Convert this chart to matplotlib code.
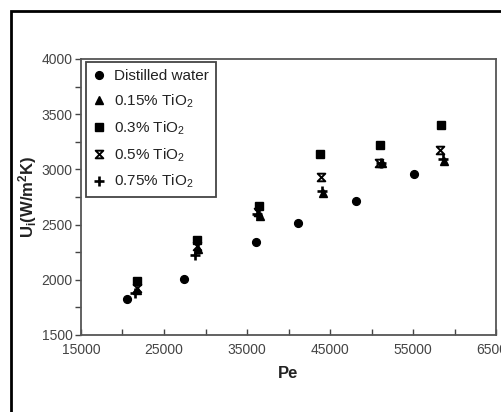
import numpy as np
import matplotlib
matplotlib.use('Agg')
import matplotlib.pyplot as plt
from matplotlib.path import Path
from matplotlib.patches import Rectangle

plt.rcParams['font.family'] = ['Liberation Sans', 'DejaVu Sans']
plt.rcParams['mathtext.default'] = 'regular'

# datos
pe_agua = [20550, 27450, 36100, 41200, 48150, 55100]
u_agua = [1825, 2010, 2340, 2515, 2710, 2955]

pe_015 = [21800, 29050, 36600, 44100, 51300, 58700]
u_015 = [1910, 2275, 2580, 2785, 3055, 3080]

pe_03 = [21750, 28950, 36450, 43850, 51050, 58400]
u_03 = [1985, 2360, 2670, 3135, 3220, 3400]

pe_05 = [21700, 29000, 36350, 43950, 50900, 58200]
u_05 = [1930, 2305, 2615, 2930, 3060, 3180]

pe_075 = [21450, 28700, 36200, 44050, 51150, 58600]
u_075 = [1880, 2225, 2600, 2800, 3060, 3090]

etiquetas = ['Distilled water', '0.15% TiO$_2$', '0.3% TiO$_2$', '0.5% TiO$_2$', '0.75% TiO$_2$']

# marcador tipo reloj de arena (x con barras)
reloj = Path([(-1, 1), (1, 1), (-1, -1), (1, -1), (-1, 1)],
             [Path.MOVETO, Path.LINETO, Path.LINETO, Path.LINETO, Path.CLOSEPOLY])

fig = plt.figure(figsize=(5.02, 4.12), dpi=100)
ax = fig.add_axes([81/502, 1 - 335/412, 415/502, 276/412])

ax.plot(pe_agua, u_agua, 'o', color='black', markersize=5.6, label=etiquetas[0])
ax.plot(pe_015, u_015, '^', color='black', markersize=6, label=etiquetas[1])
ax.plot(pe_03, u_03, 's', color='black', markersize=5.6, label=etiquetas[2])
ax.plot(pe_05, u_05, linestyle='none', marker=reloj, color='black', markerfacecolor='none',
        markeredgewidth=1.4, markersize=5.5, label=etiquetas[3])
ax.plot(pe_075, u_075, '+', color='black', markersize=7, markeredgewidth=1.9, label=etiquetas[4])

ax.set_xlim(15000, 65000)
ax.set_ylim(1500, 4000)
ax.set_xticks(np.arange(15000, 65001, 10000))
ax.set_xticks(np.arange(20000, 65000, 10000), minor=True)
ax.set_yticks(np.arange(1500, 4001, 500))
ax.set_yticks(np.arange(1750, 4000, 500), minor=True)

ax.tick_params(axis='x', which='both', direction='in', length=4, width=1, color='#444',
               labelsize=10, labelcolor='#444', pad=6)
ax.tick_params(axis='y', which='both', direction='out', length=4, width=1, color='#444',
               labelsize=10, labelcolor='#444', pad=2)

for s in ax.spines.values():
    s.set_color('#555')
    s.set_linewidth(1.3)

ax.set_xlabel('Pe', fontsize=12, fontweight='bold', color='#222', labelpad=6)
ax.set_ylabel('U$_i$(W/m$^2$K)', fontsize=12, fontweight='bold', color='#222', labelpad=2)

leg = ax.legend(loc='upper left', bbox_to_anchor=(0.012, 0.989), borderaxespad=0,
                fontsize=11, numpoints=1, handlelength=0.8, handletextpad=0.6,
                labelspacing=0.62, borderpad=0.45, fancybox=False, framealpha=1)
leg.get_frame().set_edgecolor('#444')
leg.get_frame().set_linewidth(1.3)
for t in leg.get_texts():
    t.set_color('#222')

# marco exterior negro
fig.patches.append(Rectangle((11/502, -0.2), 1.2, 1.2 - 11/412, transform=fig.transFigure,
                             fill=False, edgecolor='black', linewidth=2))

fig.savefig('out.png', dpi=100)
